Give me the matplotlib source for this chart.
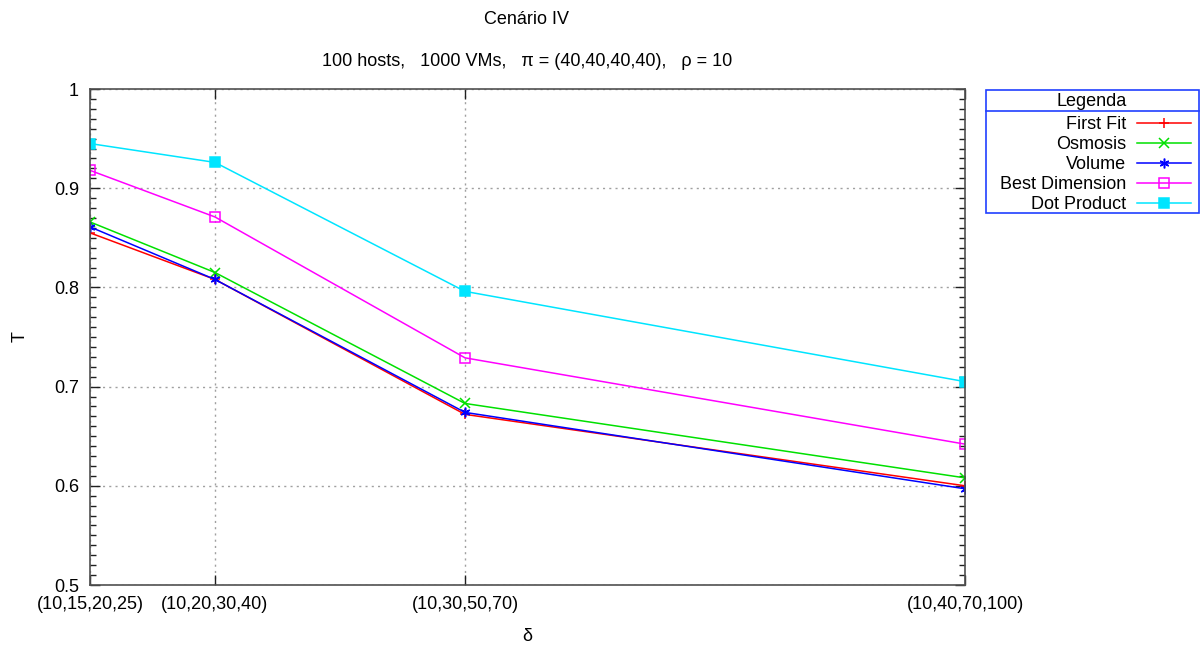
import matplotlib.pyplot as plt
from matplotlib.lines import Line2D
from matplotlib.patches import Rectangle

plt.rcParams['font.family'] = ['Liberation Sans', 'DejaVu Sans']

# delta configurations and their spacing along the x axis
deltas = ['(10,15,20,25)', '(10,20,30,40)', '(10,30,50,70)', '(10,40,70,100)']
x_pos = [0, 1, 3, 7]

first_fit = [0.855, 0.808, 0.672, 0.600]
osmosis = [0.866, 0.815, 0.683, 0.608]
volume = [0.861, 0.808, 0.674, 0.597]
best_dim = [0.918, 0.871, 0.729, 0.642]
dot_prod = [0.945, 0.926, 0.796, 0.705]

series = [
    ('First Fit', first_fit, '#ff0000', '+', 'full'),
    ('Osmosis', osmosis, '#00e000', 'x', 'full'),
    ('Volume', volume, '#0000ff', (6, 2, 0), 'full'),
    ('Best Dimension', best_dim, '#ff00ff', 's', 'none'),
    ('Dot Product', dot_prod, '#00e5ff', 's', 'full'),
]

fs = 13
fig = plt.figure(figsize=(12.01, 6.46), dpi=100)
ax = fig.add_axes([90/1201, 1-585/646, 875/1201, 496/646])

for name, vals, col, mk, fill in series:
    ax.plot(x_pos, vals, color=col, lw=1.1, marker=mk, ms=7, mew=1.1,
            fillstyle=fill, label=name)

ax.set_xlim(x_pos[0], x_pos[-1])
ax.set_ylim(0.5, 1.0)
ax.set_xticks(x_pos)
ax.set_xticklabels(deltas)
ax.set_yticks([0.5, 0.6, 0.7, 0.8, 0.9, 1.0])
ax.set_yticklabels(['0.5', '0.6', '0.7', '0.8', '0.9', '1'])
ax.set_yticks([0.5 + i*0.01 for i in range(51)], minor=True)
ax.tick_params(which='both', direction='in', top=True, right=True, labelsize=fs,
               color='#202020')
ax.tick_params(which='major', length=7, width=1, pad=8)
ax.tick_params(which='minor', length=4, width=1)
ax.tick_params(axis='x', which='minor', top=False, bottom=False)
ax.grid(True, which='major', color='#a0a0a0', ls=(0, (1.5, 3)), lw=1)
for s in ax.spines.values():
    s.set_color('#505050')
    s.set_linewidth(1.2)

ax.set_xlabel('δ', fontsize=fs, labelpad=11)
ax.set_ylabel('T', fontsize=fs)
ax.yaxis.set_label_coords(-0.0706, 0.5)

fig.text(527/1201, 1-20/646, 'Cenário IV', ha='center', va='center', fontsize=fs)
fig.text(527/1201, 1-62/646, '100 hosts,   1000 VMs,   π = (40,40,40,40),   ρ = 10',
         ha='center', va='center', fontsize=fs)

# legend: labels right-aligned in front of the line samples, boxed in blue
leg = ax.legend(loc='upper right', bbox_to_anchor=(1191/1201, 1-116/646),
                bbox_transform=fig.transFigure, markerfirst=False,
                fontsize=fs, frameon=False,
                borderaxespad=0, borderpad=0, labelspacing=0.17,
                handlelength=3.0, handletextpad=0.6)
fig.add_artist(Rectangle((986/1201, 1-213/646), 213/1201, 123/646,
                         transform=fig.transFigure, fill=False,
                         edgecolor='#2040ff', lw=1.2))
fig.add_artist(Line2D([986/1201, 1199/1201], [1-111/646, 1-111/646],
                      transform=fig.transFigure, color='#2040ff', lw=1.2))
fig.text(1092/1201, 1-102/646, 'Legenda', ha='center', va='center', fontsize=fs)

fig.savefig('out.png', dpi=100)
